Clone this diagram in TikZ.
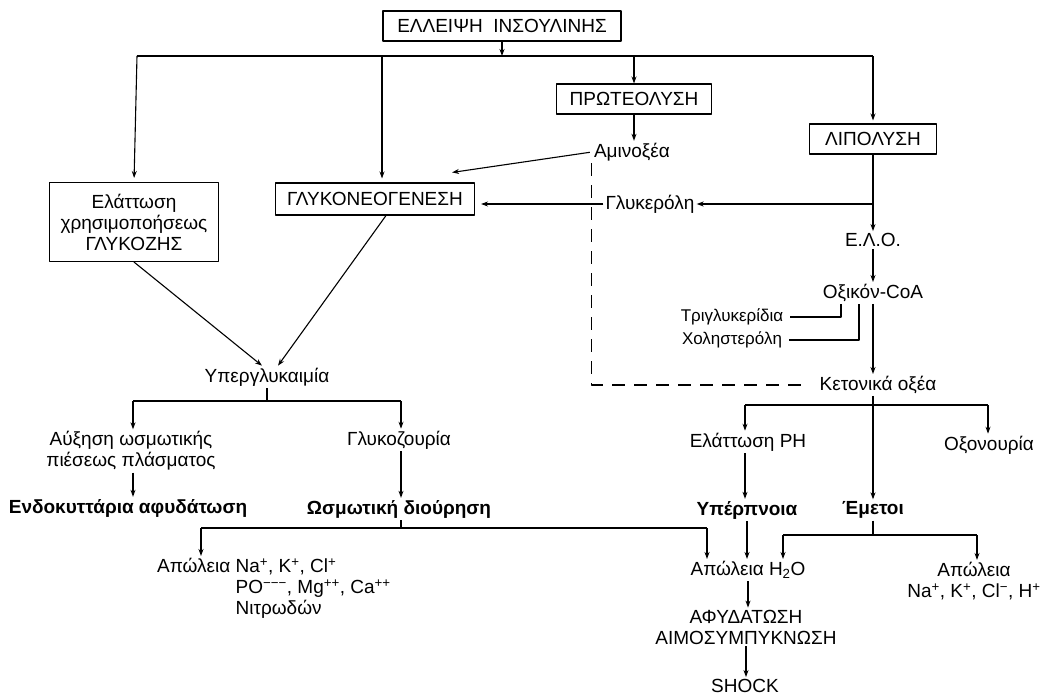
\documentclass[tikz,border=0pt]{standalone}
\usepackage{fontspec}
\setmainfont{Liberation Sans}
\usetikzlibrary{arrows.meta}
\tikzset{
  box/.style={draw, line width=1.1pt, minimum height=30pt, inner sep=4pt},
  lbl/.style={inner sep=2pt, align=center},
  minor/.style={inner sep=2pt, font=\fontsize{17}{19}\selectfont},
  link/.style={line width=1.1pt},
  arr/.style={link, ->},
}
\begin{document}
\begin{tikzpicture}[x=1pt, y=-1pt, font=\fontsize{19}{21}\selectfont, line join=round, >={Stealth[length=7pt,width=5pt]}]
\useasboundingbox (0,0) rectangle (1042,696);
% boxes
\node[box, minimum width=238pt] (ins) at (502,26) {ΕΛΛΕΙΨΗ\ \ ΙΝΣΟΥΛΙΝΗΣ};
\node[box, minimum width=155pt] (prot) at (634,99) {ΠΡΩΤΕΟΛΥΣΗ};
\node[box, minimum width=127pt] (lip) at (873,139) {ΛΙΠΟΛΥΣΗ};
\node[box, minimum width=199pt, minimum height=32pt] (glu) at (375,199) {ΓΛΥΚΟΝΕΟΓΕΝΕΣΗ};
\node[box, align=center, minimum width=169pt, minimum height=79pt] (dec) at (134,222) {Ελάττωση\\χρησιμοποήσεως\\ΓΛΥΚΟΖΗΣ};
% labels
\node[lbl] (amino) at (632,152) {Αμινοξέα};
\node[lbl] (glyc) at (650,204) {Γλυκερόλη};
\node[lbl] (elo) at (873,240) {Ε.Λ.Ο.};
\node[lbl] (acoa) at (873,293) {Οξικόν-CoA};
\node[minor] (trig) at (732,317) {Τριγλυκερίδια};
\node[minor] (chol) at (732,340) {Χοληστερόλη};
\node[lbl] (keto) at (878,385) {Κετονικά οξέα};
\node[lbl] (hyper) at (267,377) {Υπεργλυκαιμία};
\node[lbl] (osm) at (131,451) {Αύξηση ωσμωτικής\\πιέσεως πλάσματος};
\node[lbl] (icd) at (128,508) {\bfseries Ενδοκυττάρια αφυδάτωση};
\node[lbl] (gluc) at (399,440) {Γλυκοζουρία};
\node[lbl] (diur) at (399,509) {\bfseries Ωσμωτική διούρηση};
\node[lbl, anchor=north west, align=left] (lossA) at (155,556) {\begin{tabular}{@{}l@{ }l@{}}Απώλεια & Na\textsuperscript{+}, K\textsuperscript{+}, Cl\textsuperscript{+}\\ & PO\textsuperscript{−−−}, Mg\textsuperscript{++}, Ca\textsuperscript{++}\\ & Νιτρωδών\end{tabular}};
\node[lbl] (ph) at (748,442) {Ελάττωση PH};
\node[lbl] (oxo) at (989,445) {Οξονουρία};
\node[lbl] (hyperp) at (747,510) {\bfseries Υπέρπνοια};
\node[lbl] (emet) at (873,510) {\bfseries Έμετοι};
\node[lbl] (water) at (748,570) {Απώλεια H\textsubscript{2}O};
\node[lbl] (lossB) at (974,581) {Απώλεια\\Na\textsuperscript{+}, K\textsuperscript{+}, Cl\textsuperscript{−}, H\textsuperscript{+}};
\node[lbl] (dehyd) at (746,627) {ΑΦΥΔΑΤΩΣΗ\\ΑΙΜΟΣΥΜΠΥΚΝΩΣΗ};
\node[lbl] (shock) at (745,686) {SHOCK};
% branch points
\coordinate (tl) at (137,56);
\coordinate (tr) at (873,56);
\coordinate (hl) at (133,401);
\coordinate (hr) at (401,401);
\coordinate (dl) at (201,528);
\coordinate (dr) at (707,528);
\coordinate (kl) at (745,405);
\coordinate (kr) at (988,405);
\coordinate (el) at (783,535);
\coordinate (er) at (977,535);
% top level
\draw[link] (tl) -- (tr);
\draw[arr] (ins.south) -- (ins.south |- tl);
\draw[arr, shorten >=4pt] (tl) -- (dec.north);
\draw[arr, shorten >=4pt] ([xshift=7]glu.north |- tl) -- ([xshift=7]glu.north);
\draw[arr] (prot.north |- tl) -- (prot.north);
\draw[arr, shorten >=3pt] (tr) -- (lip.north);
\draw[arr] (prot.south) -- (prot.south |- amino.north);
\draw[arr, shorten <=2pt] (amino.west) -- ([shift={(-23,-10)}]glu.north east);
\draw[arr, shorten >=6pt] (glyc.west) -- (glyc.west -| glu.east);
\draw[arr] (lip.south |- glyc) -- (glyc.east);
\draw[link, dashed, dash pattern=on 13pt off 9pt, shorten >=11pt] (amino.south west) |- (keto.west);
% lipolysis chain
\foreach \a/\b in {lip/elo, elo/acoa, acoa/keto}
  \draw[arr] (\a.south -| lip) -- (lip |- \b.north);
\draw[link, shorten <=5pt] (trig.east) -| ([xshift=-32]acoa.south);
\draw[link, shorten <=5pt] (chol.east) -| ([xshift=-14]acoa.south);
% hyperglycaemia
\draw[arr] (dec.south) -- ([xshift=-5]hyper.north);
\draw[arr] ([xshift=11]glu.south) -- ([xshift=11]hyper.north);
\draw[link] (hyper.south) -- (hyper.south |- hl) (hl) -- (hr);
\draw[arr] (hl) -- (hl |- osm.north);
\draw[arr] (hr) -- (hr |- gluc.north);
\draw[arr] (osm.south -| hl) -- (hl |- icd.north);
\draw[arr] (gluc.south -| hr) -- (hr |- diur.north);
\draw[link] (diur.south -| hr) -- (hr |- dl) (dl) -- (dr);
\draw[arr] (dl) -- (dl |- lossA.north);
\draw[arr] (dr) -- (dr |- water.north);
% ketone bodies
\draw[link] (kl) -- (kr);
\draw[arr] (keto.south -| lip) -- (lip |- emet.north);
\draw[arr] (kl) -- (kl |- ph.north);
\draw[arr] (kr) -- (kr |- oxo.north);
\draw[arr] (ph.south -| kl) -- (kl |- hyperp.north);
\draw[arr] (hyperp.south) -- (hyperp.south |- water.north);
\draw[link] (emet.south) -- (emet.south |- el) (el) -- (er);
\draw[arr] (el) -- (el |- water.north);
\draw[arr] (er) -- (er |- lossB.north);
\foreach \a/\b in {water/dehyd, dehyd/shock}
  \draw[arr] (\a.south) -- (\a.south |- \b.north);
\end{tikzpicture}
\end{document}
